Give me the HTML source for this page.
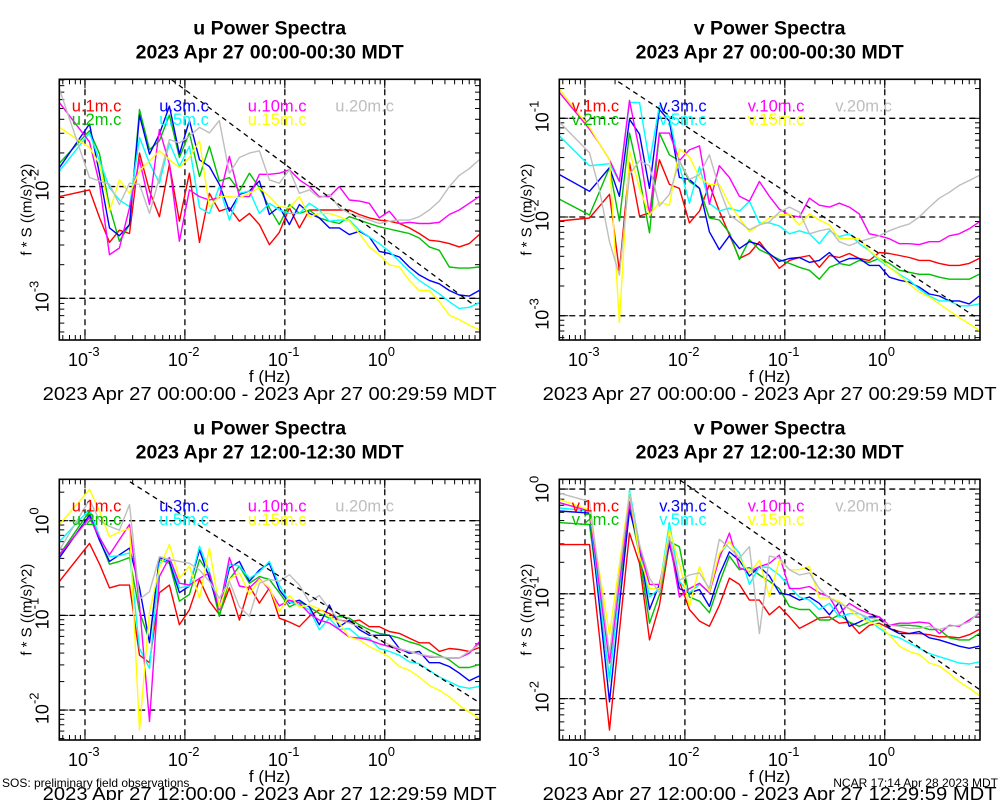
<!DOCTYPE html>
<html><head><meta charset="utf-8"><style>
html,body{margin:0;padding:0;background:#fff;}
svg{display:block;font-family:"Liberation Sans",sans-serif;}
</style></head><body>
<svg id="chart" width="1000" height="800" viewBox="0 0 1000 800" xmlns="http://www.w3.org/2000/svg">
<rect x="0" y="0" width="1000" height="800" fill="#fff"/>
<text x="2" y="787" font-size="12">SOS: preliminary field observations</text>
<text x="998" y="787" font-size="12" text-anchor="end">NCAR 17:14 Apr 28 2023 MDT</text>
</svg>
<script>
// frequencies (Hz), shared by all panels
const freqs = [5.56e-4,1.11e-3,1.40e-3,1.76e-3,2.21e-3,2.79e-3,3.51e-3,4.42e-3,5.56e-3,7.00e-3,8.81e-3,
 1.11e-2,1.40e-2,1.76e-2,2.21e-2,2.79e-2,3.51e-2,4.42e-2,5.56e-2,7.00e-2,8.81e-2,
 0.111,0.140,0.176,0.221,0.279,0.351,0.442,0.556,0.700,0.881,
 1.11,1.40,1.76,2.21,2.79,3.51,4.42,5.56,7.00,8.81];
const heights = ["1m","2m","3m","5m","10m","15m","20m"];
// series values: log10 of f*S ((m/s)^2)
// Panel A: u 00:00-00:30
const uA_1m = [-2.09,-2.03,-2.28,-2.50,-2.39,-2.42,-1.70,-2.04,-2.27,-1.80,-2.31,-1.88,-2.50,-2.06,-2.22,-2.19,-2.31,-2.24,-2.34,-2.52,-2.41,-2.19,-2.37,-2.21,-2.21,-2.21,-2.21,-2.21,-2.25,-2.28,-2.30,-2.31,-2.33,-2.37,-2.42,-2.48,-2.49,-2.51,-2.54,-2.51,-2.43];
const uA_2m = [-1.79,-1.50,-1.71,-2.18,-2.49,-2.34,-1.31,-1.67,-1.59,-1.36,-1.74,-1.52,-1.91,-1.64,-1.95,-1.92,-2.04,-1.88,-2.01,-2.19,-2.34,-2.16,-2.24,-2.21,-2.28,-2.31,-2.33,-2.27,-2.30,-2.33,-2.36,-2.38,-2.40,-2.42,-2.46,-2.54,-2.57,-2.72,-2.73,-2.73,-2.72];
const uA_3m = [-1.83,-1.44,-1.89,-2.37,-2.44,-2.34,-1.36,-1.71,-1.53,-1.28,-1.71,-1.41,-1.76,-1.82,-1.98,-2.22,-2.07,-2.04,-1.95,-2.25,-2.18,-2.34,-2.16,-2.24,-2.28,-2.37,-2.37,-2.43,-2.40,-2.45,-2.58,-2.60,-2.63,-2.72,-2.79,-2.84,-2.87,-2.93,-2.97,-2.98,-2.93];
const uA_5m = [-1.86,-1.52,-1.77,-2.01,-2.12,-2.18,-1.56,-1.79,-1.97,-1.61,-1.82,-1.64,-2.19,-2.24,-2.00,-2.30,-2.06,-2.04,-2.24,-2.15,-2.21,-2.24,-2.24,-2.15,-2.21,-2.31,-2.30,-2.30,-2.39,-2.45,-2.51,-2.58,-2.67,-2.76,-2.84,-2.90,-2.96,-3.03,-3.09,-3.08,-3.04];
const uA_10m = [-1.25,-1.60,-1.98,-2.61,-2.55,-2.19,-1.76,-2.16,-1.49,-1.80,-2.49,-2.03,-2.09,-2.12,-2.10,-1.73,-2.09,-2.09,-1.89,-1.89,-1.88,-1.85,-1.94,-2.00,-2.09,-2.09,-2.00,-2.12,-2.13,-2.15,-2.28,-2.22,-2.33,-2.32,-2.33,-2.33,-2.32,-2.25,-2.21,-2.15,-2.09];
const uA_15m = [-1.47,-1.65,-1.80,-2.22,-1.94,-2.06,-1.86,-1.77,-1.68,-1.76,-1.83,-1.74,-1.59,-2.18,-2.09,-2.09,-2.10,-2.06,-2.01,-2.09,-2.18,-2.19,-2.09,-2.27,-2.24,-2.24,-2.27,-2.31,-2.42,-2.54,-2.61,-2.70,-2.72,-2.84,-2.93,-2.93,-3.03,-3.15,-3.19,-3.24,-3.28];
const uA_20m = [-1.13,-1.92,-1.95,-1.98,-2.16,-1.97,-1.98,-2.24,-1.92,-1.58,-1.61,-1.55,-1.47,-1.52,-1.41,-1.88,-1.74,-1.70,-1.68,-1.94,-1.97,-1.85,-2.06,-2.03,-2.10,-2.07,-2.19,-2.24,-2.27,-2.30,-2.33,-2.31,-2.30,-2.30,-2.27,-2.21,-2.13,-2.00,-1.90,-1.84,-1.76];
// Panel B: v 00:00-00:30
const vB_1m = [-2.04,-2.01,-1.89,-1.77,-2.55,-1.45,-1.99,-1.96,-1.42,-1.67,-1.71,-2.06,-1.94,-1.67,-1.94,-2.18,-2.42,-2.37,-2.25,-2.38,-2.52,-2.44,-2.41,-2.39,-2.51,-2.39,-2.41,-2.37,-2.42,-2.44,-2.36,-2.37,-2.39,-2.41,-2.44,-2.44,-2.47,-2.49,-2.49,-2.47,-2.42];
const vB_2m = [-1.82,-1.98,-1.74,-1.50,-2.04,-1.15,-1.60,-2.16,-1.15,-1.37,-1.43,-1.64,-1.71,-2.01,-2.03,-2.16,-2.43,-2.23,-2.33,-2.38,-2.43,-2.47,-2.51,-2.54,-2.63,-2.51,-2.47,-2.49,-2.44,-2.46,-2.42,-2.47,-2.54,-2.56,-2.58,-2.58,-2.61,-2.63,-2.63,-2.63,-2.58];
const vB_3m = [-1.57,-1.74,-1.62,-1.50,-1.79,-1.01,-1.16,-1.71,-0.91,-1.03,-1.60,-1.62,-1.71,-2.15,-2.33,-2.19,-2.32,-2.25,-2.28,-2.37,-2.45,-2.42,-2.41,-2.46,-2.44,-2.36,-2.46,-2.42,-2.42,-2.49,-2.49,-2.61,-2.64,-2.66,-2.71,-2.78,-2.80,-2.85,-2.85,-2.88,-2.80];
const vB_5m = [-1.18,-1.48,-1.47,-1.46,-1.64,-0.84,-0.84,-1.45,-0.87,-0.99,-1.48,-1.86,-1.49,-1.86,-1.94,-1.91,-1.94,-1.84,-2.06,-2.06,-2.09,-2.17,-2.14,-2.17,-2.27,-2.14,-2.20,-2.17,-2.27,-2.34,-2.44,-2.51,-2.58,-2.64,-2.73,-2.80,-2.85,-2.85,-2.90,-2.90,-2.88];
const vB_10m = [-0.74,-1.11,-1.26,-1.42,-1.64,-0.82,-1.33,-1.98,-1.15,-1.15,-1.43,-1.32,-1.28,-1.87,-1.48,-1.60,-1.79,-1.84,-1.64,-1.79,-1.92,-1.98,-2.00,-1.81,-1.88,-1.90,-1.86,-1.90,-1.97,-2.17,-2.19,-2.22,-2.27,-2.27,-2.28,-2.25,-2.25,-2.19,-2.17,-2.12,-2.05];
const vB_15m = [-0.71,-1.09,-1.26,-1.42,-3.07,-1.33,-1.71,-1.98,-1.85,-1.88,-1.31,-1.39,-1.60,-1.67,-1.67,-1.87,-2.01,-2.15,-2.08,-2.01,-1.98,-1.97,-2.08,-1.97,-2.03,-2.08,-2.22,-2.22,-2.22,-2.34,-2.42,-2.51,-2.59,-2.68,-2.76,-2.81,-2.88,-2.95,-3.02,-3.08,-3.15];
const vB_20m = [-1.04,-1.35,-1.73,-2.25,-2.59,-1.57,-1.43,-1.48,-1.89,-1.77,-1.43,-1.62,-1.57,-1.37,-1.71,-1.98,-2.05,-2.13,-2.08,-2.05,-1.95,-1.90,-1.95,-2.17,-2.14,-2.12,-2.25,-2.29,-2.25,-2.22,-2.19,-2.14,-2.10,-2.07,-2.00,-1.90,-1.81,-1.75,-1.68,-1.63,-1.58];
// Panel C: u 12:00-12:30
const uC_1m = [-0.64,-0.24,-0.46,-0.71,-0.68,-0.68,-1.42,-1.50,-0.76,-0.68,-1.10,-0.94,-0.62,-0.85,-0.99,-0.71,-1.05,-0.69,-0.87,-0.71,-1.03,-1.07,-1.12,-1.01,-0.94,-0.98,-1.05,-1.07,-1.05,-1.12,-1.12,-1.17,-1.19,-1.24,-1.29,-1.29,-1.38,-1.35,-1.36,-1.38,-1.34];
const uC_2m = [-0.36,0.10,-0.20,-0.46,-0.43,-0.39,-0.96,-1.27,-0.41,-0.45,-0.85,-0.78,-0.41,-0.57,-1.01,-0.62,-0.48,-0.66,-0.59,-0.62,-0.76,-0.91,-0.86,-0.91,-0.98,-1.03,-1.01,-1.03,-1.10,-1.15,-1.19,-1.21,-1.24,-1.28,-1.31,-1.37,-1.42,-1.47,-1.55,-1.55,-1.52];
const uC_3m = [-0.39,0.06,-0.21,-0.43,-0.36,-0.29,-0.71,-1.29,-0.39,-0.43,-0.76,-0.69,-0.31,-0.61,-0.94,-0.50,-0.43,-0.64,-0.52,-0.45,-0.73,-0.87,-0.84,-0.91,-1.10,-0.89,-1.12,-1.05,-1.15,-1.21,-1.21,-1.21,-1.35,-1.40,-1.38,-1.50,-1.50,-1.54,-1.61,-1.69,-1.64];
const uC_5m = [-0.22,0.12,-0.17,-0.38,-0.37,-0.34,-1.35,-1.56,-0.45,-0.39,-0.71,-0.69,-0.27,-0.54,-0.92,-0.46,-0.48,-0.61,-0.54,-0.43,-0.68,-0.86,-0.89,-0.94,-1.15,-1.03,-1.15,-1.14,-1.23,-1.24,-1.35,-1.38,-1.42,-1.49,-1.51,-1.58,-1.65,-1.70,-1.75,-1.77,-1.75];
const uC_10m = [-0.36,0.03,-0.18,-0.36,-0.20,-0.04,-0.89,-2.12,-0.59,-0.39,-0.66,-0.68,-0.61,-0.55,-0.94,-0.39,-0.69,-0.71,-0.61,-0.73,-0.90,-0.84,-0.87,-0.98,-1.05,-1.08,-1.15,-1.23,-1.24,-1.26,-1.30,-1.33,-1.36,-1.38,-1.41,-1.44,-1.44,-1.45,-1.45,-1.40,-1.28];
const uC_15m = [-0.04,0.33,0.10,-0.17,-0.12,-0.08,-2.21,-0.96,-0.50,-0.25,-0.61,-0.48,-0.82,-0.29,-0.92,-0.62,-0.55,-0.78,-0.62,-0.71,-0.96,-0.79,-0.91,-0.89,-0.93,-1.01,-1.08,-1.23,-1.26,-1.33,-1.38,-1.44,-1.54,-1.58,-1.65,-1.74,-1.79,-1.86,-1.95,-2.02,-2.09];
const uC_20m = [-0.31,0.22,0.00,-0.06,-0.10,0.17,-0.83,-0.75,-0.38,-0.41,-0.43,-0.45,-0.52,-0.64,-0.82,-0.64,-0.91,-1.01,-0.66,-0.62,-0.64,-0.57,-0.68,-0.86,-0.79,-0.93,-1.05,-1.08,-1.12,-1.19,-1.26,-1.31,-1.35,-1.38,-1.41,-1.43,-1.44,-1.45,-1.45,-1.38,-1.31];
// Panel D: v 12:00-12:30
const vD_1m = [-0.53,-0.53,-1.42,-2.30,-1.36,-0.42,-0.71,-1.44,-1.11,-0.52,-0.88,-1.15,-1.26,-1.31,-1.11,-0.85,-0.91,-1.06,-1.06,-1.20,-1.12,-1.22,-1.33,-1.28,-1.23,-1.22,-1.28,-1.27,-1.38,-1.30,-1.28,-1.33,-1.36,-1.38,-1.38,-1.39,-1.41,-1.41,-1.42,-1.39,-1.34];
const vD_2m = [-0.32,-0.34,-1.07,-1.81,-0.95,-0.17,-0.63,-1.28,-1.01,-0.50,-0.55,-1.03,-1.07,-1.18,-0.90,-0.64,-0.77,-0.75,-0.82,-0.88,-0.95,-1.12,-1.15,-1.15,-1.25,-1.25,-1.20,-1.27,-1.31,-1.27,-1.25,-1.30,-1.30,-1.30,-1.31,-1.34,-1.34,-1.42,-1.44,-1.44,-1.38];
const vD_3m = [-0.21,-0.23,-1.13,-2.03,-1.11,-0.20,-0.56,-1.15,-0.91,-0.52,-0.95,-0.99,-0.96,-1.12,-0.82,-0.60,-0.68,-0.83,-0.74,-0.83,-0.99,-1.01,-1.06,-1.03,-1.09,-1.20,-1.08,-1.31,-1.27,-1.22,-1.22,-1.33,-1.38,-1.38,-1.36,-1.42,-1.44,-1.47,-1.50,-1.52,-1.50];
const vD_5m = [-0.18,-0.21,-1.02,-1.84,-0.93,-0.01,-0.53,-1.03,-0.95,-0.32,-0.88,-0.99,-0.91,-0.99,-0.63,-0.50,-0.61,-0.91,-0.74,-0.75,-0.82,-0.93,-1.03,-1.06,-1.15,-1.09,-1.22,-1.19,-1.19,-1.25,-1.33,-1.39,-1.42,-1.47,-1.52,-1.57,-1.60,-1.63,-1.66,-1.67,-1.65];
const vD_10m = [-0.13,-0.21,-0.94,-1.66,-0.89,-0.12,-0.56,-0.91,-0.91,-0.48,-1.03,-0.95,-0.90,-0.99,-0.66,-0.42,-0.75,-0.79,-0.74,-0.71,-0.63,-0.95,-0.95,-0.93,-0.99,-1.03,-1.19,-1.09,-1.15,-1.19,-1.22,-1.30,-1.28,-1.28,-1.27,-1.28,-1.38,-1.30,-1.31,-1.25,-1.19];
const vD_15m = [-0.10,-0.20,-0.80,-1.39,-0.72,-0.04,-0.64,-0.95,-0.95,-0.39,-0.71,-1.12,-0.74,-0.98,-0.61,-0.50,-0.66,-0.80,-0.68,-1.03,-0.68,-0.77,-0.77,-0.74,-1.04,-1.04,-1.07,-1.15,-1.23,-1.27,-1.30,-1.39,-1.50,-1.55,-1.58,-1.66,-1.69,-1.76,-1.84,-1.90,-1.97];
const vD_20m = [-0.04,-0.12,-0.85,-1.57,-0.81,-0.05,-0.53,-0.85,-0.99,-0.45,-0.87,-0.82,-0.80,-0.95,-0.48,-0.56,-0.66,-0.55,-1.38,-0.64,-0.66,-0.77,-0.82,-0.80,-0.95,-1.04,-1.09,-1.14,-1.19,-1.23,-1.25,-1.30,-1.31,-1.33,-1.33,-1.31,-1.34,-1.31,-1.30,-1.27,-1.17];

const xTickExps = [-3,-2,-1,0];
const yTickExpsA = [-2,-3];
const yTickExpsB = [-1,-2,-3];
const yTickExpsC = [0,-1,-2];
const yTickExpsD = [0,-1,-2];
// reference -2/3 slope line: [log f start, log f end, log S at start]
const refA = [-2.133, 0.90, -1.044];
const refB = [-2.667, 0.90, -0.629];
const refC = [-2.55, 0.95, 0.41];
const refD = [-2.05, 0.95, 0.086];

const colors = ["#ff0000","#00c000","#0000ff","#00ffff","#ff00ff","#ffff00","#bebebe"];
const NS = "http://www.w3.org/2000/svg";
const svg = document.getElementById("chart");
function mk(tag, attrs, parent){ const e=document.createElementNS(NS,tag); for(const k in attrs) e.setAttribute(k,attrs[k]); (parent||svg).appendChild(e); return e; }

function panel(cfg){
  const g = mk("g",{});
  
  
  const X0=cfg.x0, X1=cfg.x0+420.7, Y0=cfg.y0, Y1=cfg.y0+260.7;
  const lx0=-3.257, lx1=0.953;
  const xs = lf => X0 + (lf-lx0)/(lx1-lx0)*(X1-X0);
  const ys = ly => Y0 + (cfg.ytop-ly)/(cfg.ytop-cfg.ybot)*(Y1-Y0);
  const cx=(X0+X1)/2;
  let t = mk("text",{x:cx,y:cfg.y0-45,"font-size":19.5,"font-weight":"bold","text-anchor":"middle"},g);
  t.textContent = cfg.comp+" Power Spectra";
  
  
  t = mk("text",{x:cx,y:cfg.y0-21,"font-size":19.5,"font-weight":"bold","text-anchor":"middle"},g);
  t.textContent = cfg.sub;
  
  
  const cp = mk("clipPath",{id:"clip-"+cfg.id},g);
  mk("rect",{x:X0,y:Y0,width:X1-X0,height:Y1-Y0},cp);
  const tk = mk("g",{stroke:"#000","stroke-width":1},g);
  
  
  for(let d=-4; d<=1; d++) for(let m=1;m<10;m++){
    const lf = d+Math.log10(m); if(lf<lx0||lf>lx1) continue;
    const L = m==1?9:5, x=xs(lf);
    mk("line",{x1:x,x2:x,y1:Y1,y2:Y1-L},tk); mk("line",{x1:x,x2:x,y1:Y0,y2:Y0+L},tk);
  }
  for(let d=-4; d<=1; d++) for(let m=1;m<10;m++){
    const ly = d+Math.log10(m); if(ly>cfg.ytop||ly<cfg.ybot) continue;
    const L = m==1?9:5, y=ys(ly);
    mk("line",{x1:X0,x2:X0+L,y1:y,y2:y},tk); mk("line",{x1:X1,x2:X1-L,y1:y,y2:y},tk);
  }
  const gr = mk("g",{stroke:"#000","stroke-width":1.3,"stroke-dasharray":"6,4"},g);
  
  
  xTickExps.forEach(e=>{ const x=xs(e); mk("line",{x1:x,x2:x,y1:Y0,y2:Y1},gr); });
  cfg.yt.forEach(e=>{ const y=ys(e); mk("line",{x1:X0,x2:X1,y1:y,y2:y},gr); });
  xTickExps.forEach(e=>{
    const x=xs(e);
    const tt = mk("text",{x:x-17,y:Y1+26,"font-size":18},g);
    
    
    tt.appendChild(document.createTextNode("10"));
    const sp = mk("tspan",{dy:-10,"font-size":13},tt); sp.textContent = String(e);
  });
  cfg.yt.forEach(e=>{
    const y=ys(e);
    const tt = mk("text",{x:0,y:0,"font-size":18,transform:`translate(${X0-11},${y+14}) rotate(-90)`},g);
    
    
    tt.appendChild(document.createTextNode("10"));
    const sp = mk("tspan",{dy:-10,"font-size":13},tt); sp.textContent = String(e);
  });
  t = mk("text",{x:cx,y:Y1+42,"font-size":17,"text-anchor":"middle"},g);
  t.textContent="f (Hz)";
  
  
  t = mk("text",{x:0,y:0,"font-size":15,"text-anchor":"middle",transform:`translate(${X0-28},${(Y0+Y1)/2}) rotate(-90)`},g);
  t.textContent="f * S ((m/s)^2)";
  
  
  t = mk("text",{x:cx,y:Y1+60,"font-size":18.5,"text-anchor":"middle",textLength:454,lengthAdjust:"spacingAndGlyphs"},g);
  t.textContent = cfg.range;
  
  
  const sg = mk("g",{"clip-path":`url(#clip-${cfg.id})`},g);
  cfg.series.forEach((arr,i)=>{
    const pts = arr.map((v,k)=> xs(Math.log10(freqs[k])).toFixed(1)+","+ys(v).toFixed(1)).join(" ");
    const pl = mk("polyline",{points:pts,fill:"none",stroke:colors[i],"stroke-width":1.4,"stroke-linejoin":"round"},sg);
    
    
  });
  const r = cfg.ref;
  const rl = mk("line",{x1:xs(r[0]),y1:ys(r[2]),x2:xs(r[1]),y2:ys(r[2]-(2/3)*(r[1]-r[0])),stroke:"#000","stroke-width":1.3,"stroke-dasharray":"5,4"},sg);
  
  
  const lx=[X0+12.5,X0+100,X0+188.5,X0+276];
  heights.forEach((h,i)=>{
    const col = i<2?0:(i<4?1:(i<6?2:3)); const row = (i==6)?0:i%2;
    const lt = mk("text",{x:lx[col],y:Y0+32+row*13.5,"font-size":16.5,fill:colors[i]},g);
    lt.textContent = cfg.comp+"."+h+".c";
    
    
  });
  const fr = mk("rect",{x:X0,y:Y0,width:X1-X0,height:Y1-Y0,fill:"none",stroke:"#000","stroke-width":1.6},g);
  
  
}

const s1="2023 Apr 27 00:00-00:30 MDT", s2="2023 Apr 27 12:00-12:30 MDT";
const r1="2023 Apr 27 00:00:00 - 2023 Apr 27 00:29:59 MDT", r2="2023 Apr 27 12:00:00 - 2023 Apr 27 12:29:59 MDT";
panel({id:"panel-u-night",comp:"u",sub:s1,range:r1,x0:59.3,y0:79.3,ytop:-1.04,ybot:-3.373,yt:yTickExpsA,ref:refA,
  series:[uA_1m,uA_2m,uA_3m,uA_5m,uA_10m,uA_15m,uA_20m]});
panel({id:"panel-v-night",comp:"v",sub:s1,range:r1,x0:559.3,y0:79.3,ytop:-0.605,ybot:-3.246,yt:yTickExpsB,ref:refB,
  series:[vB_1m,vB_2m,vB_3m,vB_5m,vB_10m,vB_15m,vB_20m]});
panel({id:"panel-u-day",comp:"u",sub:s2,range:r2,x0:59.3,y0:479.3,ytop:0.437,ybot:-2.316,yt:yTickExpsC,ref:refC,
  series:[uC_1m,uC_2m,uC_3m,uC_5m,uC_10m,uC_15m,uC_20m]});
panel({id:"panel-v-day",comp:"v",sub:s2,range:r2,x0:559.3,y0:479.3,ytop:0.093,ybot:-2.395,yt:yTickExpsD,ref:refD,
  series:[vD_1m,vD_2m,vD_3m,vD_5m,vD_10m,vD_15m,vD_20m]});
</script>
</body></html>
